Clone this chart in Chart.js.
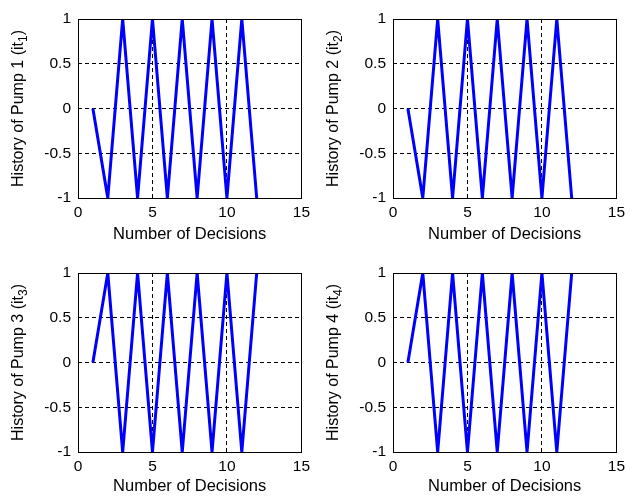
<!DOCTYPE html>
<html>
<head>
<meta charset="utf-8">
<script src="https://cdn.jsdelivr.net/npm/chart.js@4/dist/chart.umd.min.js"></script>
<style>
  body { margin: 0; background: #fff; }
  canvas { position: absolute; }
</style>
</head>
<body>
<canvas id="pump1" width="315" height="249" style="left:0;top:0"></canvas>
<canvas id="pump2" width="315" height="249" style="left:315px;top:0"></canvas>
<canvas id="pump3" width="315" height="249" style="left:0;top:249px"></canvas>
<canvas id="pump4" width="315" height="249" style="left:315px;top:249px"></canvas>
<script>
// decision index and on/off history (-1 / +1) of each pump
const decisions = [1, 2, 3, 4, 5, 6, 7, 8, 9, 10, 11, 12];
const pump1 = [0, -1, 1, -1, 1, -1, 1, -1, 1, -1, 1, -1];
const pump2 = [0, -1, 1, -1, 1, -1, 1, -1, 1, -1, 1, -1];
const pump3 = [0, 1, -1, 1, -1, 1, -1, 1, -1, 1, -1, 1];
const pump4 = [0, 1, -1, 1, -1, 1, -1, 1, -1, 1, -1, 1];
const xTicks = [0, 5, 10, 15];
const yTicks = [-1, -0.5, 0, 0.5, 1];

const FONT = 'Liberation Sans, Arial, sans-serif';
Chart.defaults.font.family = FONT;
Chart.defaults.color = '#000';

// black frame round the plot area
const boxPlugin = {
    id: 'box',
    afterDraw(chart) {
        const a = chart.chartArea;
        const ctx = chart.ctx;
        ctx.save();
        ctx.strokeStyle = '#000';
        ctx.lineWidth = 1;
        ctx.setLineDash([]);
        ctx.strokeRect(Math.round(a.left) + 0.5, Math.round(a.top) + 0.5,
            Math.round(a.right - a.left), Math.round(a.bottom - a.top));
        ctx.restore();
    }
};

// y label with a real subscript: "History of Pump n (it_n)"
const yLabelPlugin = {
    id: 'ylabel',
    afterDraw(chart, args, opts) {
        const a = chart.chartArea;
        const ctx = chart.ctx;
        const head = 'History of Pump ' + opts.n + ' (it';
        const sub = String(opts.n);
        const tail = ')';
        ctx.save();
        ctx.fillStyle = '#000';
        ctx.textBaseline = 'middle';
        ctx.font = '16px ' + FONT;
        const wHead = ctx.measureText(head).width;
        const wTail = ctx.measureText(tail).width;
        ctx.font = '12px ' + FONT;
        const wSub = ctx.measureText(sub).width;
        const total = wHead + wSub + wTail;
        ctx.translate(19, (a.top + a.bottom) / 2);
        ctx.rotate(-Math.PI / 2);
        let x = -total / 2;
        ctx.font = '16px ' + FONT;
        ctx.fillText(head, x, 0);
        x += wHead;
        ctx.font = '12px ' + FONT;
        ctx.fillText(sub, x, 5);
        x += wSub;
        ctx.font = '16px ' + FONT;
        ctx.fillText(tail, x, 0);
        ctx.restore();
    }
};

function makePlot(id, values, n, top, xHeight, xTitlePad) {
    return new Chart(document.getElementById(id), {
        type: 'line',
        data: {
            datasets: [{
                data: decisions.map((d, i) => ({ x: d, y: values[i] })),
                borderColor: '#0000ff',
                borderWidth: 3,
                pointRadius: 0,
                tension: 0,
                clip: 0
            }]
        },
        options: {
            responsive: false,
            animation: false,
            devicePixelRatio: 1,
            layout: { padding: { top: top, right: 9, left: 0, bottom: 0 } },
            plugins: {
                legend: { display: false },
                tooltip: { enabled: false },
                ylabel: { n: n }
            },
            scales: {
                x: {
                    type: 'linear',
                    min: 0, max: 15,
                    afterBuildTicks: s => { s.ticks = xTicks.map(v => ({ value: v })); },
                    afterFit: s => { s.height = xHeight; },
                    ticks: { padding: 5, font: { size: 15.5 }, maxRotation: 0 },
                    grid: {
                        drawTicks: false,
                        lineWidth: 1,
                        color: c => (c.tick && (c.tick.value === 0 || c.tick.value === 15)) ? 'rgba(0,0,0,0)' : '#000'
                    },
                    border: { display: false, dash: [4, 3] },
                    title: {
                        display: true,
                        text: 'Number of Decisions',
                        font: { size: 16.5 },
                        padding: { top: 0, bottom: xTitlePad }
                    }
                },
                y: {
                    min: -1, max: 1,
                    afterBuildTicks: s => { s.ticks = yTicks.map(v => ({ value: v })); },
                    afterFit: s => { s.width = 78; },
                    ticks: { padding: 7, font: { size: 15.5 }, callback: v => String(v) },
                    grid: {
                        drawTicks: false,
                        lineWidth: 1,
                        color: c => (c.tick && Math.abs(c.tick.value) === 1) ? 'rgba(0,0,0,0)' : '#000'
                    },
                    border: { display: false, dash: [4, 3] },
                    title: { display: false }
                }
            }
        },
        plugins: [boxPlugin, yLabelPlugin]
    });
}

makePlot('pump1', pump1, 1, 19, 51, 5);
makePlot('pump2', pump2, 2, 19, 51, 5);
makePlot('pump3', pump3, 3, 24, 46, 1.5);
makePlot('pump4', pump4, 4, 24, 46, 1.5);
</script>
</body>
</html>
